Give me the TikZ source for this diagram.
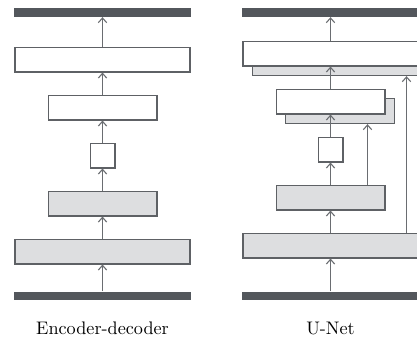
\documentclass[tikz,border=0pt]{standalone}
\usepackage{tikz}
\usetikzlibrary{arrows.meta,positioning}

\definecolor{bardark}{HTML}{53575C}
\definecolor{boxgray}{HTML}{DDDEE0}
\definecolor{boxline}{HTML}{5E6165}
\definecolor{flowgray}{HTML}{6A6D71}

\tikzset{
  box/.style = {draw=boxline, line width=0.7pt, fill=white, minimum height=13.6pt, inner sep=0pt},
  wide/.style = {box, minimum width=96.3pt},
  mid/.style = {box, minimum width=59.8pt},
  tiny/.style = {box, minimum width=13.6pt},
  shade/.style = {fill=boxgray},
  behind/.style = {xshift=5.2pt, yshift=-5.3pt},
  bar/.style = {fill=bardark, minimum width=97.3pt, minimum height=4.7pt, inner sep=0pt},
  flow/.style = {draw=flowgray, line width=0.6pt, -{Straight Barb[length=2.6pt, width=4.6pt]}}
}

\begin{document}
\begin{tikzpicture}[x=0.55pt, y=-0.55pt, node distance=26.4pt]
  \useasboundingbox (0,0) rectangle (417,338);

  % encoder-decoder
  \node[bar] (eTop) at (102.5,12.5) {};
  \node[bar] (eBot) at (102.5,296) {};
  \node[wide, shade] (e1) at (102.5,251.5) {};
  \node[mid, shade] (e2) [above of=e1] {};
  \node[tiny] (e3) [above of=e2] {};
  \node[mid] (e4) [above of=e3] {};
  \node[wide] (e5) [above of=e4] {};

  \draw[flow] (eBot) -- (e1);
  \draw[flow] (e1) -- (e2);
  \draw[flow] (e2) -- (e3);
  \draw[flow] (e3) -- (e4);
  \draw[flow] (e4) -- (e5);
  \draw[flow] (e5) -- (eTop);

  % u-net
  \node[bar] (uTop) at (330.5,12.5) {};
  \node[bar] (uBot) at (330.5,296) {};
  \node[wide, shade] (u1) at (330.5,245.5) {};
  \node[mid, shade] (u2) [above of=u1] {};
  \node[tiny] (u3) [above of=u2] {};
  \node[mid, shade] (u4s) [above of=u3, behind] {};
  \node[mid] (u4) [above of=u3] {};
  \node[wide, shade] (u5s) [above of=u4, behind] {};
  \node[wide] (u5) [above of=u4] {};

  \draw[flow] (uBot) -- (u1);
  \draw[flow] (u1) -- (u2);
  \draw[flow] (u2) -- (u3);
  \draw[flow] (u3) -- (u4);
  \draw[flow] (u4) -- (u5);
  \draw[flow] (u5) -- (uTop);

  % skips
  \coordinate (skipA) at ([xshift=41.8pt]u1.north);
  \coordinate (skipB) at ([xshift=20.35pt]u2.north);
  \draw[flow] (skipA) -- (skipA |- u5s.south);
  \draw[flow] (skipB) -- (skipB |- u4s.south);

  \node (eName) at (102.5,328) {Encoder-decoder};
  \node (uName) at (330.5,328) {U-Net};
\end{tikzpicture}
\end{document}
